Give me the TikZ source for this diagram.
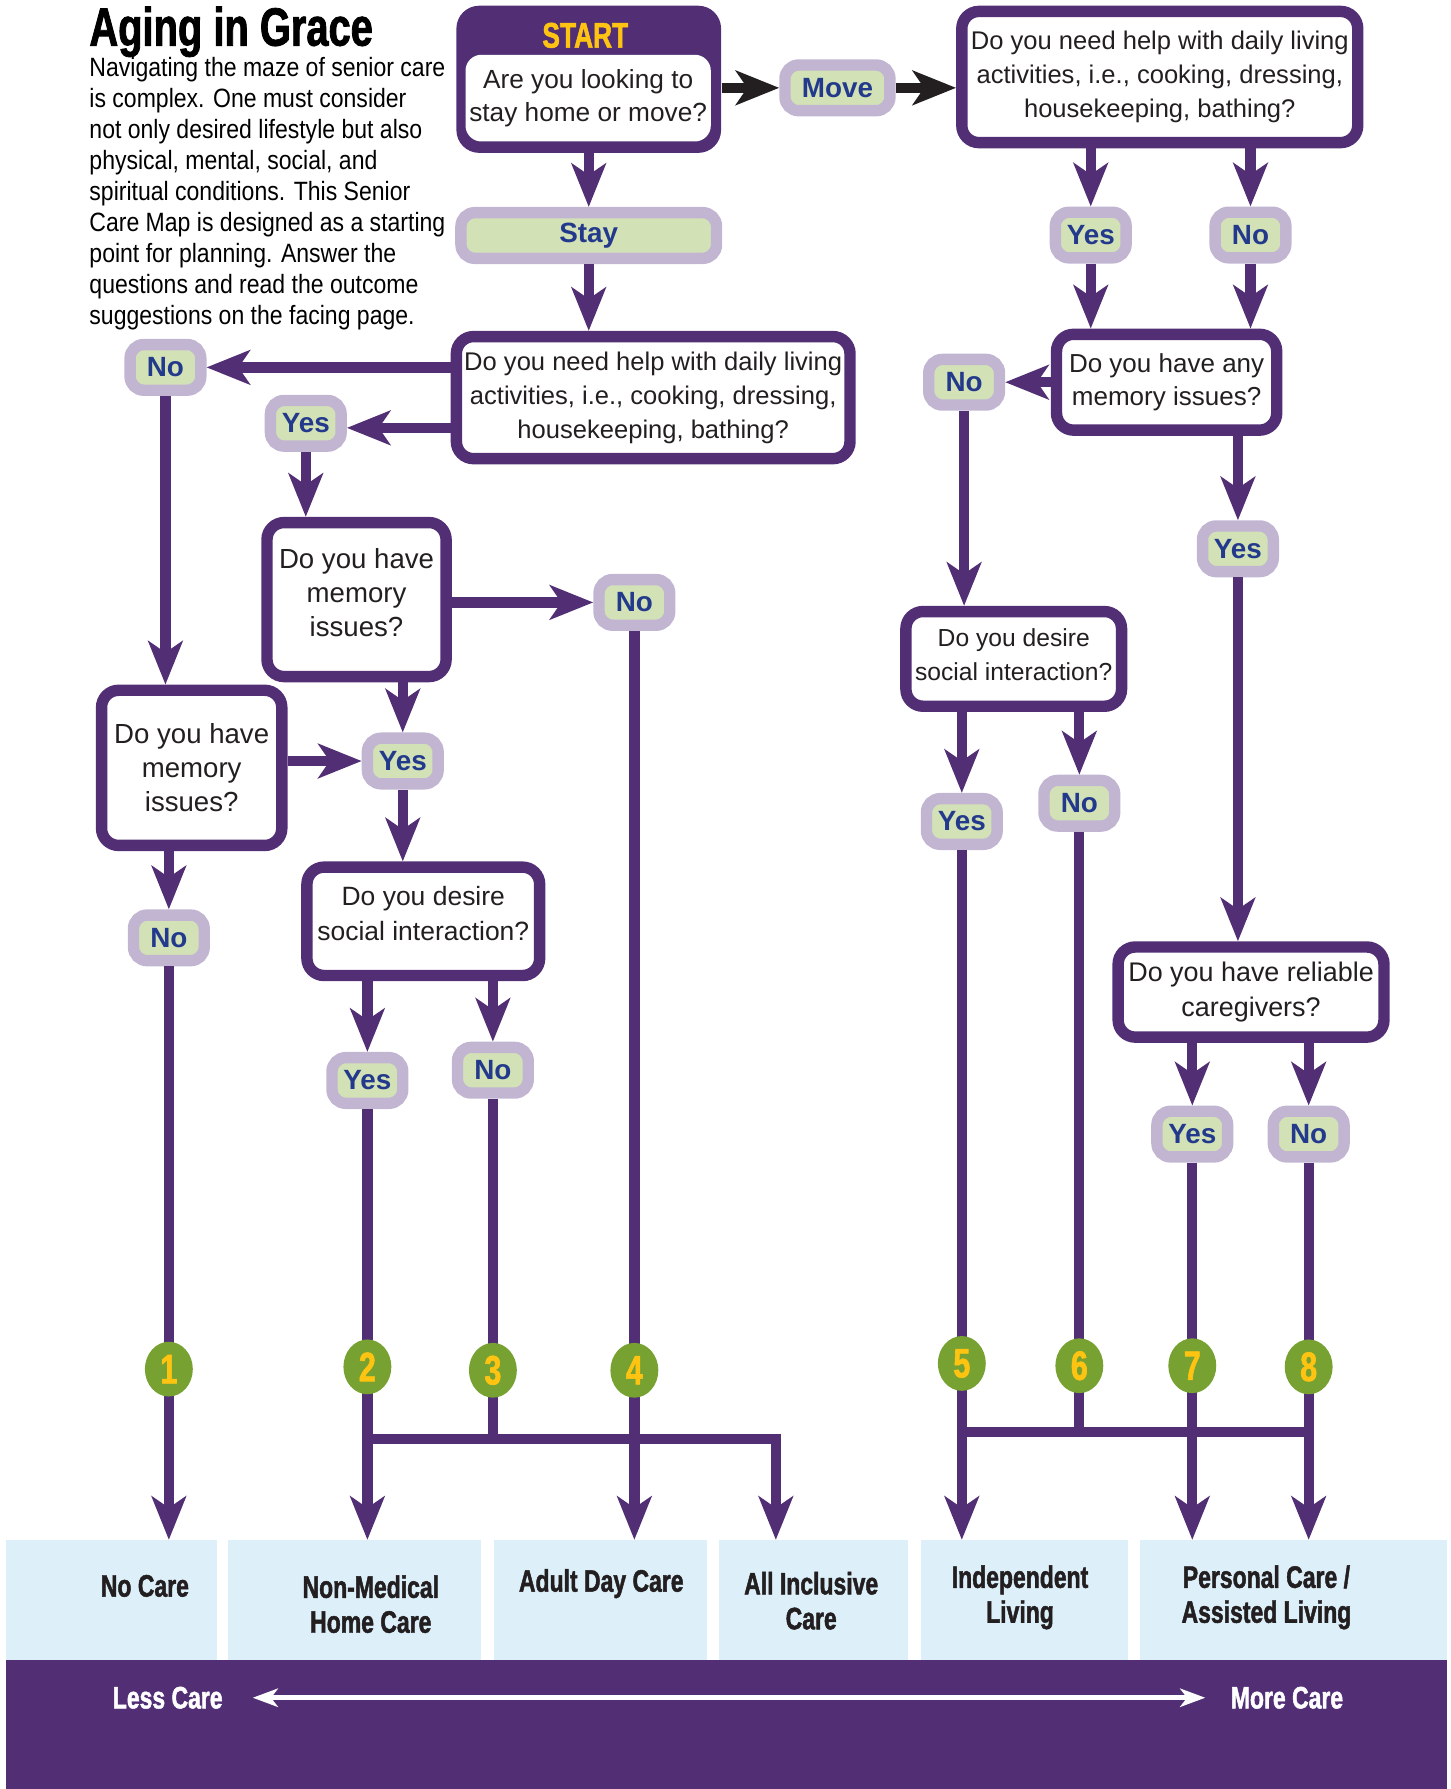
\documentclass[tikz,border=0pt]{standalone}
\usepackage{fontspec}
\setmainfont{Liberation Sans}
\newfontfamily\impactfont{Liberation Sans}[FakeStretch=0.74,BoldFeatures={FakeBold=1.5}]
\newfontfamily\narrowfont{Liberation Sans}[FakeStretch=0.87]
\usetikzlibrary{arrows.meta,positioning,shapes.geometric}
\definecolor{carepurple}{RGB}{82,47,117}
\definecolor{lavender}{RGB}{194,181,210}
\definecolor{palegreen}{RGB}{211,225,182}
\definecolor{answerblue}{RGB}{35,58,140}
\definecolor{startyellow}{RGB}{255,196,18}
\definecolor{leafgreen}{RGB}{119,162,50}
\definecolor{skyblue}{RGB}{221,240,250}
\definecolor{inkblack}{RGB}{35,31,32}
\tikzset{
    %Define standard arrow tip
    >={Stealth[length=19pt,width=15pt,inset=5pt]},
    %Define style for question boxes
    qbox/.style={
           rectangle,
           rounded corners=7.5pt,
           draw=carepurple, line width=5pt,
           fill=white,
           text=inkblack,
           align=center,
           inner sep=0pt,
           font=\fontsize{11.5}{15}\selectfont},
    % Define style for the answers
    answer/.style={
           rectangle,
           rounded corners=6pt,
           draw=lavender, line width=5pt,
           fill=palegreen,
           text=answerblue,
           minimum width=31pt,
           minimum height=20pt,
           inner sep=0pt,
           font=\bfseries\fontsize{12.2}{14}\selectfont},
    % Start box
    startbox/.style={
           rectangle,
           rounded corners=10pt,
           fill=carepurple,
           minimum width=116pt,
           minimum height=64.5pt},
    startinner/.style={
           rectangle,
           rounded corners=7pt,
           fill=white,
           text=inkblack,
           minimum width=107.5pt,
           minimum height=38pt,
           align=center,
           inner sep=0pt,
           font=\fontsize{11.5}{14.5}\selectfont},
    starttag/.style={
           text=startyellow,
           inner sep=0pt,
           font=\impactfont\bfseries\fontsize{15.6}{16}\selectfont},
    % Define arrow style
    flow/.style={
           ->,
           line width=4.5pt,
           draw=carepurple},
    blackflow/.style={flow, draw=inkblack},
    branch/.style={
           line width=4.5pt,
           draw=carepurple},
    % Numbered outcomes
    num/.style={
           ellipse,
           fill=leafgreen,
           minimum width=21pt,
           minimum height=24pt,
           inner sep=0pt,
           text=startyellow,
           font=\impactfont\bfseries\fontsize{18}{18}\selectfont},
    % Kinds of care at the bottom
    outcome/.style={
           rectangle,
           fill=skyblue,
           minimum height=52.5pt,
           inner sep=0pt},
    outtext/.style={
           text=inkblack,
           align=center,
           inner sep=0pt,
           font=\impactfont\bfseries\fontsize{13.6}{15.3}\selectfont},
    bandtext/.style={
           text=white,
           inner sep=0pt,
           font=\impactfont\bfseries\fontsize{13.6}{15}\selectfont},
    careaxis/.style={
           <->,
           >={Stealth[length=11pt,width=8pt,inset=3pt]},
           line width=2pt,
           draw=white},
    % Node for the heading text
    heading/.style={
           text=black,
           inner sep=0pt,
           font=\impactfont\bfseries\fontsize{23.6}{24}\selectfont},
    intro/.style={
           text=black,
           align=left,
           inner sep=0pt,
           font=\narrowfont\fontsize{11.6}{13.6}\selectfont}
}

\begin{document}
\begin{tikzpicture}[x=0.5pt, y=-0.5pt]
    \useasboundingbox (0,0) rectangle (1271,1568);
    % heading and intro
    \node[heading, anchor=base west] (title) at (78,40) {Aging in Grace};
    \node[intro, anchor=north west] (intro) at (78,50)
    {Navigating the maze of senior care\\
     is complex. One must consider\\
     not only desired lifestyle but also\\
     physical, mental, social, and\\
     spiritual conditions. This Senior\\
     Care Map is designed as a starting\\
     point for planning. Answer the\\
     questions and read the outcome\\
     suggestions on the facing page.};

    % start
    \node[startbox] (start) at (516,69.5) {};
    \node[startinner] (startq) at (515.5,86) {Are you looking to\\stay home or move?};
    \node[starttag] (starttag) at (513,31) {START};
    \node[answer, minimum width=46pt] (move) at (734,77) {Move};
    \node[answer, minimum width=112pt, below=23.5pt of start] (stay) {Stay};

    % stay home
    \node[qbox, minimum width=172.5pt, minimum height=53.5pt, font=\fontsize{11.2}{15}\selectfont] (qstay) at (572.5,348.5)
    {Do you need help with daily living\\activities, i.e., cooking, dressing,\\housekeeping, bathing?};
    \node[answer] (nL1) at (145,322) {No};
    \node[answer] (yL1) at (268,371) {Yes};
    \node[qbox, minimum width=78.5pt, minimum height=67.5pt, text depth=6pt, font=\fontsize{12.1}{15}\selectfont] (qmem1) at (312.5,525.5)
    {Do you have\\memory\\issues?};
    \node[answer] (nM) at (556,528) {No};
    \node[answer] (yM) at (353,667) {Yes};
    \node[qbox, minimum width=79pt, minimum height=68pt, font=\fontsize{12.1}{15}\selectfont] (qmem2) at (168,673)
    {Do you have\\memory\\issues?};
    \node[answer] (nL2) at (148,822) {No};
    \node[qbox, minimum width=102pt, minimum height=47.5pt, text depth=7pt, font=\fontsize{11.6}{15}\selectfont] (qsoc1) at (371,807.5)
    {Do you desire\\social interaction?};
    \node[answer] (yS1) at (322,947) {Yes};
    \node[answer] (nS1) at (432,938) {No};

    % move
    \node[qbox, minimum width=173.5pt, minimum height=57.5pt, font=\fontsize{11.2}{15}\selectfont] (qmove) at (1016.5,67.5)
    {Do you need help with daily living\\activities, i.e., cooking, dressing,\\housekeeping, bathing?};
    \node[answer] (yR1) at (956,206) {Yes};
    \node[answer] (nR1) at (1096,206) {No};
    \node[qbox, minimum width=96.5pt, minimum height=42pt, font=\fontsize{11.4}{14.5}\selectfont] (qmemr) at (1022.5,335)
    {Do you have any\\memory issues?};
    \node[answer, left=20pt of qmemr] (nR2) {No};
    \node[answer] (yR2) at (1085,481) {Yes};
    \node[qbox, minimum width=94.5pt, minimum height=41.5pt, text depth=4pt, font=\fontsize{10.8}{15}\selectfont] (qsocr) at (888.5,577.5)
    {Do you desire\\social interaction?};
    \node[answer] (yS2) at (843,720) {Yes};
    \node[answer] (nS2) at (946,704) {No};
    \node[qbox, minimum width=116.5pt, minimum height=39.5pt, font=\fontsize{11.8}{15}\selectfont] (qcare) at (1096.5,869.5)
    {Do you have reliable\\caregivers?};
    \node[answer] (yC) at (1045,994) {Yes};
    \node[answer] (nC) at (1147,994) {No};

    % kinds of care
    \node[outcome, minimum width=92.5pt] (nocare) at (97.5,1402.5) {};
    \node[outcome, minimum width=111pt] (nonmed) at (311,1402.5) {};
    \node[outcome, minimum width=93.5pt] (adult) at (526.5,1402.5) {};
    \node[outcome, minimum width=83pt] (allinc) at (713,1402.5) {};
    \node[outcome, minimum width=91pt] (indep) at (898,1402.5) {};
    \node[outcome, minimum width=134.5pt] (assist) at (1133.5,1402.5) {};
    \node[outtext] (tnocare) at (127,1390) {No Care};
    \node[outtext] (tnonmed) at (325,1406) {Non-Medical\\Home Care};
    \node[outtext] (tadult) at (527,1388) {Adult Day Care};
    \node[outtext] (tallinc) at (711,1403) {All Inclusive\\Care};
    \node[outtext] (tindep) at (894,1400) {Independent\\Living};
    \node[outtext] (tassist) at (1110,1400) {Personal Care /\\Assisted Living};
    \node[rectangle, fill=carepurple, minimum width=631.5pt, minimum height=56.5pt, inner sep=0pt] (band) at (636.5,1511.5) {};
    \node[bandtext] (less) at (147,1488) {Less Care};
    \node[bandtext] (more) at (1128,1488) {More Care};
    \draw[careaxis, shorten <=13pt, shorten >=11pt] (less.east) -- (more.west);

    % connectors
    \draw[blackflow] (start.east |- move.west) -- (move.west);
    \draw[blackflow] (move.east) -- (move.east -| qmove.west);
    \draw[flow] (start.south) -- (start.south |- stay.north);
    \draw[flow] (stay.south) -- (stay.south |- qstay.north);
    \draw[flow] (qstay.west |- nL1) -- (nL1.east);
    \draw[flow] (qstay.west |- 0,375) -- (yL1.east |- 0,375);
    \draw[flow] (yL1.south) -- (yL1.south |- qmem1.north);
    \draw[flow] (qmem1.east |- nM) -- (nM.west);
    \draw[flow] (qmem1.south -| yM) -- (yM.north);
    \draw[flow] (nL1.south) -- (nL1.south |- qmem2.north);
    \draw[flow] (qmem2.east |- yM) -- (yM.west);
    \draw[flow] (yM.south) -- (yM.south |- qsoc1.north);
    \draw[flow] (qmem2.south -| nL2) -- (nL2.north);
    \draw[flow] (qsoc1.south -| yS1) -- (yS1.north);
    \draw[flow] (qsoc1.south -| nS1) -- (nS1.north);
    \draw[flow] (qmove.south -| yR1) -- (yR1.north);
    \draw[flow] (qmove.south -| nR1) -- (nR1.north);
    \draw[flow] (yR1.south) -- (yR1.south |- qmemr.north);
    \draw[flow] (nR1.south) -- (nR1.south |- qmemr.north);
    \draw[flow] (qmemr.west |- nR2) -- (nR2.east);
    \draw[flow] (qmemr.south -| yR2) -- (yR2.north);
    \draw[flow] (yR2.south) -- (yR2.south |- qcare.north);
    \draw[flow] (nR2.south) -- (nR2.south |- qsocr.north);
    \draw[flow] (qsocr.south -| yS2) -- (yS2.north);
    \draw[flow] (qsocr.south -| nS2) -- (nS2.north);
    \draw[flow] (qcare.south -| yC) -- (yC.north);
    \draw[flow] (qcare.south -| nC) -- (nC.north);

    % down to the kinds of care
    \coordinate (bar1) at (680,1261);
    \coordinate (bar2) at (1147,1255);
    \draw[flow] (nL2.south) -- (nL2.south |- nocare.north);
    \draw[flow] (yS1.south) -- (yS1.south |- nonmed.north);
    \draw[branch] (nS1.south) -- (nS1.south |- bar1);
    \draw[flow] (nM.south) -- (nM.south |- adult.north);
    \draw[flow] (yS1.south |- bar1) -- (bar1) -- (bar1 |- allinc.north);
    \draw[flow] (yS2.south) -- (yS2.south |- indep.north);
    \draw[branch] (nS2.south) -- (nS2.south |- bar2);
    \draw[flow] (yC.south) -- (yC.south |- assist.north);
    \draw[flow] (nC.south) -- (nC.south |- assist.north);
    \draw[branch] (yS2.south |- bar2) -- (bar2);

    % numbers
    \node[num] (n1) at (148,1200) {1};
    \node[num] (n2) at (322,1198) {2};
    \node[num] (n3) at (432,1201) {3};
    \node[num] (n4) at (556,1201) {4};
    \node[num] (n5) at (843,1195) {5};
    \node[num] (n6) at (946,1197) {6};
    \node[num] (n7) at (1045,1197) {7};
    \node[num] (n8) at (1147,1198) {8};
\end{tikzpicture}
\end{document}
